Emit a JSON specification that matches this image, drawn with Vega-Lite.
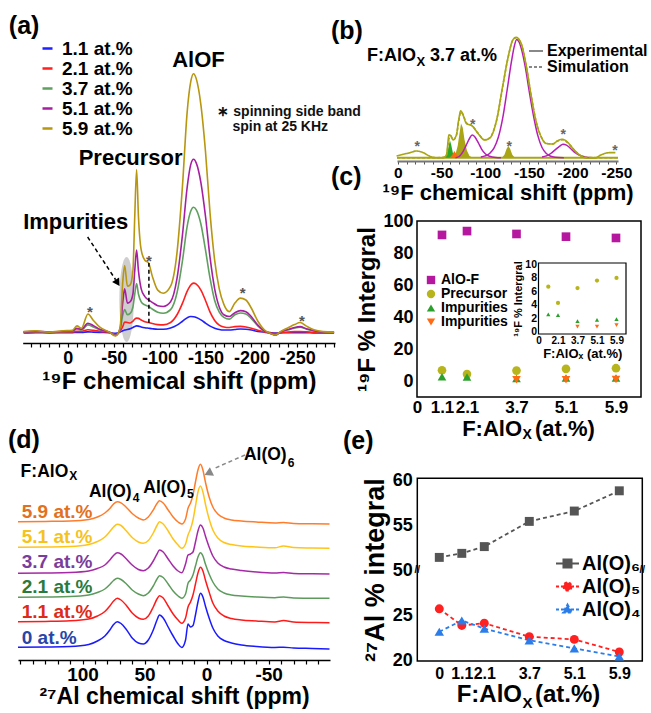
{
"$schema":"https://vega.github.io/schema/vega-lite/v6.json",
"width":651,"height":713,"autosize":{"type":"none"},"padding":0,"background":"white",
"config":{"view":{"stroke":null},"font":"Liberation Sans",
"axis":{"grid":false,"labelFont":"Liberation Sans","labelFontWeight":"bold","labelColor":"#000","titleFont":"Liberation Sans","titleFontWeight":"bold","titleColor":"#000","domainColor":"#000","tickColor":"#000","labelOverlap":false,"labelFlush":false,"labelBound":false},
"legend":{"labelFont":"Liberation Sans","labelFontWeight":"bold","labelColor":"#000","padding":0},
"text":{"font":"Liberation Sans","fontWeight":"bold"}},
"datasets":{
"specA":[
{"p":48,"c11":0,"c21":0.2,"c37":0.4,"c51":0.4,"c59":0.5},
{"p":35,"c11":0.1,"c21":0.3,"c37":0.5,"c51":0.6,"c59":0.8},
{"p":20,"c11":0,"c21":0.2,"c37":0.3,"c51":0.4,"c59":0.3},
{"p":5,"c11":0.1,"c21":0.3,"c37":0.5,"c51":0.6,"c59":0.8},
{"p":-5,"c11":0.1,"c21":0.4,"c37":0.6,"c51":0.8,"c59":1.0},
{"p":-10,"c11":0.2,"c21":0.6,"c37":1.5,"c51":1.8,"c59":2.7},
{"p":-15,"c11":0.2,"c21":0.6,"c37":1.1,"c51":1.4,"c59":1.8},
{"p":-22,"c11":0.4,"c21":1.2,"c37":3.1,"c51":3.7,"c59":7.3},
{"p":-28,"c11":0.3,"c21":1.0,"c37":2.3,"c51":2.8,"c59":4.8},
{"p":-35,"c11":0.2,"c21":0.6,"c37":1.1,"c51":1.4,"c59":2.2},
{"p":-45,"c11":0.1,"c21":0.2,"c37":0.3,"c51":0.3,"c59":0.4},
{"p":-52,"c11":-0.2,"c21":-0.6,"c37":-0.9,"c51":-1.0,"c59":-1.2},
{"p":-57,"c11":0.3,"c21":0.5,"c37":1.2,"c51":1.5,"c59":2.0},
{"p":-60,"c11":0.8,"c21":2.5,"c37":7,"c51":12,"c59":20},
{"p":-62,"c11":1.1,"c21":4.2,"c37":9,"c51":17,"c59":26},
{"p":-65,"c11":1.3,"c21":4.0,"c37":7,"c51":11.5,"c59":18},
{"p":-68,"c11":1.6,"c21":3.8,"c37":7.5,"c51":12,"c59":18.5},
{"p":-71,"c11":2.1,"c21":4.5,"c37":10,"c51":15,"c59":24},
{"p":-73,"c11":2.5,"c21":5.3,"c37":15,"c51":24,"c59":45},
{"p":-75,"c11":2.7,"c21":5.7,"c37":19,"c51":32,"c59":63},
{"p":-77,"c11":2.6,"c21":5.6,"c37":15,"c51":24,"c59":45},
{"p":-80,"c11":2.3,"c21":5.0,"c37":12,"c51":17,"c59":32},
{"p":-84,"c11":2.0,"c21":4.3,"c37":10.8,"c51":14,"c59":28},
{"p":-88,"c11":1.8,"c21":4.0,"c37":10.2,"c51":12.7,"c59":27},
{"p":-92,"c11":1.6,"c21":3.6,"c37":9.2,"c51":11.8,"c59":22},
{"p":-98,"c11":1.4,"c21":3.2,"c37":8,"c51":10.5,"c59":16.5},
{"p":-104,"c11":1.4,"c21":3.1,"c37":7.6,"c51":10.2,"c59":15.3},
{"p":-112,"c11":1.9,"c21":4.0,"c37":9,"c51":12,"c59":18},
{"p":-119,"c11":3.0,"c21":7,"c37":15.5,"c51":21,"c59":31},
{"p":-125,"c11":4.5,"c21":11.5,"c37":28,"c51":38,"c59":57},
{"p":-130,"c11":5.8,"c21":16,"c37":41,"c51":56,"c59":85},
{"p":-134,"c11":6.3,"c21":18.5,"c37":47,"c51":65,"c59":97},
{"p":-137,"c11":6.2,"c21":19.2,"c37":48.5,"c51":67,"c59":100},
{"p":-140,"c11":5.9,"c21":18.8,"c37":47.5,"c51":65.5,"c59":98},
{"p":-145,"c11":5.0,"c21":16.5,"c37":42,"c51":58,"c59":88},
{"p":-150,"c11":3.8,"c21":12.5,"c37":32,"c51":45,"c59":70},
{"p":-155,"c11":2.6,"c21":8,"c37":21,"c51":29,"c59":46},
{"p":-160,"c11":1.8,"c21":4.8,"c37":12.5,"c51":17,"c59":28},
{"p":-165,"c11":1.3,"c21":3.0,"c37":8,"c51":10,"c59":17},
{"p":-170,"c11":1.1,"c21":2.3,"c37":6,"c51":7,"c59":11},
{"p":-176,"c11":1.1,"c21":2.1,"c37":5.3,"c51":6.3,"c59":8.2},
{"p":-182,"c11":1.3,"c21":2.4,"c37":7,"c51":7.8,"c59":11.5},
{"p":-188,"c11":1.5,"c21":2.5,"c37":7.7,"c51":8.6,"c59":13.4},
{"p":-194,"c11":1.4,"c21":2.3,"c37":7.3,"c51":8.2,"c59":12.7},
{"p":-200,"c11":1.1,"c21":1.8,"c37":5.5,"c51":6.2,"c59":9.5},
{"p":-207,"c11":0.6,"c21":1.0,"c37":2.7,"c51":3,"c59":4.5},
{"p":-214,"c11":0.3,"c21":0.4,"c37":0.7,"c51":0.8,"c59":1.2},
{"p":-220,"c11":0.1,"c21":0,"c37":-0.1,"c51":-0.1,"c59":-0.1},
{"p":-226,"c11":-0.1,"c21":-0.3,"c37":-0.8,"c51":-0.8,"c59":-0.8},
{"p":-232,"c11":0,"c21":0.1,"c37":0.4,"c51":0.4,"c59":0.6},
{"p":-240,"c11":0.1,"c21":0.3,"c37":1.2,"c51":1.3,"c59":2},
{"p":-247,"c11":0.1,"c21":0.5,"c37":1.9,"c51":2.1,"c59":3.2},
{"p":-253,"c11":0.1,"c21":0.5,"c37":2.2,"c51":2.4,"c59":4.0},
{"p":-260,"c11":0.1,"c21":0.4,"c37":1.4,"c51":1.6,"c59":2.6},
{"p":-268,"c11":0,"c21":0.2,"c37":0.7,"c51":0.8,"c59":1.2},
{"p":-278,"c11":0,"c21":0.1,"c37":0.3,"c51":0.3,"c59":0.5},
{"p":-290,"c11":0,"c21":0.1,"c37":0.2,"c51":0.2,"c59":0.3}],
"specD":[
{"p":152,"c0":12.7,"c11":38.3,"c21":62.7,"c37":86.7,"c51":112.7,"c59":138.3},
{"p":130,"c0":13.0,"c11":38.6,"c21":63,"c37":87,"c51":113,"c59":138.6},
{"p":110,"c0":13.5,"c11":39.2,"c21":63.4,"c37":87.5,"c51":113.5,"c59":139},
{"p":95,"c0":15.5,"c11":41,"c21":65,"c37":89,"c51":115.5,"c59":140.5},
{"p":88,"c0":19,"c11":44,"c21":67.5,"c37":91.5,"c51":118.5,"c59":143},
{"p":82,"c0":24,"c11":48.5,"c21":71,"c37":95,"c51":123,"c59":147},
{"p":78,"c0":30,"c11":54,"c21":75.5,"c37":100,"c51":128.5,"c59":151.5},
{"p":75,"c0":35.5,"c11":59,"c21":79.5,"c37":104.5,"c51":133,"c59":156},
{"p":72,"c0":38.3,"c11":61.7,"c21":81.7,"c37":107.3,"c51":135.7,"c59":158.3},
{"p":69,"c0":36.5,"c11":60,"c21":80.5,"c37":106,"c51":134.5,"c59":157.2},
{"p":65,"c0":31,"c11":55,"c21":76.5,"c37":101.5,"c51":129.5,"c59":153},
{"p":60,"c0":22,"c11":47,"c21":70,"c37":95,"c51":122.5,"c59":146.5},
{"p":55,"c0":17,"c11":42,"c21":66,"c37":90.5,"c51":118,"c59":142},
{"p":51,"c0":16,"c11":40.7,"c21":64.3,"c37":89.3,"c51":116.7,"c59":140},
{"p":47,"c0":20,"c11":44,"c21":67,"c37":92,"c51":119.5,"c59":143},
{"p":43,"c0":30,"c11":53,"c21":74,"c37":99,"c51":127,"c59":150},
{"p":40,"c0":40,"c11":61,"c21":81,"c37":106,"c51":134.5,"c59":156.5},
{"p":38,"c0":45,"c11":64.3,"c21":84.3,"c37":110,"c51":138.3,"c59":159.3},
{"p":35,"c0":42,"c11":62,"c21":82.5,"c37":108,"c51":136,"c59":157},
{"p":31,"c0":33,"c11":54,"c21":76,"c37":101,"c51":129,"c59":150},
{"p":27,"c0":24,"c11":46,"c21":69,"c37":94,"c51":121,"c59":143},
{"p":23,"c0":16,"c11":40,"c21":64,"c37":89,"c51":115,"c59":138},
{"p":20,"c0":12.5,"c11":36.7,"c21":61.7,"c37":87.3,"c51":111.7,"c59":136},
{"p":17,"c0":20,"c11":42,"c21":66,"c37":96,"c51":116,"c59":141},
{"p":15,"c0":36,"c11":53,"c21":76.7,"c37":105,"c51":125,"c59":151.7},
{"p":13,"c0":33,"c11":58,"c21":80,"c37":106,"c51":131,"c59":157},
{"p":11,"c0":34.5,"c11":65,"c21":85,"c37":108,"c51":140,"c59":165},
{"p":9,"c0":45,"c11":76,"c21":94,"c37":118,"c51":154,"c59":178},
{"p":7,"c0":58,"c11":87,"c21":103,"c37":129,"c51":168,"c59":190},
{"p":5,"c0":66.7,"c11":92.7,"c21":107.3,"c37":135,"c51":174,"c59":195.7},
{"p":3,"c0":63,"c11":89,"c21":104,"c37":132,"c51":168,"c59":190},
{"p":1,"c0":54,"c11":80,"c21":96,"c37":124,"c51":156,"c59":178},
{"p":-2,"c0":42,"c11":68,"c21":86,"c37":113,"c51":141,"c59":163},
{"p":-5,"c0":32,"c11":57,"c21":78,"c37":104,"c51":130,"c59":153},
{"p":-9,"c0":24,"c11":49,"c21":71,"c37":97,"c51":122,"c59":146},
{"p":-14,"c0":19.5,"c11":44,"c21":67,"c37":93,"c51":117.5,"c59":142},
{"p":-20,"c0":17,"c11":41.5,"c21":65,"c37":91,"c51":115.5,"c59":140},
{"p":-28,"c0":15,"c11":40,"c21":64,"c37":89.5,"c51":114,"c59":139},
{"p":-40,"c0":13.5,"c11":39,"c21":63,"c37":88,"c51":113,"c59":138},
{"p":-55,"c0":12.5,"c11":38,"c21":62.3,"c37":87,"c51":112.2,"c59":137},
{"p":-62,"c0":12.8,"c11":39.5,"c21":63,"c37":87.5,"c51":114,"c59":137.5},
{"p":-70,"c0":12,"c11":38,"c21":62,"c37":86.5,"c51":112.5,"c59":136.5},
{"p":-85,"c0":11.5,"c11":37.5,"c21":61.8,"c37":86.2,"c51":112,"c59":136.2},
{"p":-99,"c0":11,"c11":37.3,"c21":61.7,"c37":86,"c51":111.7,"c59":136}],
"expB":[
{"k":"Experimental","p":1.5,"v":1.4},{"k":"Experimental","p":-6,"v":2.8},{"k":"Experimental","p":-14,"v":4.2},{"k":"Experimental","p":-21,"v":5.6},{"k":"Experimental","p":-29,"v":4.2},{"k":"Experimental","p":-36,"v":1.4},{"k":"Experimental","p":-44,"v":0},{"k":"Experimental","p":-52,"v":0},{"k":"Experimental","p":-55.6,"v":2.3},{"k":"Experimental","p":-58.6,"v":19},{"k":"Experimental","p":-60.5,"v":18.4},{"k":"Experimental","p":-63.2,"v":14.8},{"k":"Experimental","p":-67,"v":19},{"k":"Experimental","p":-69.6,"v":31.4},{"k":"Experimental","p":-72,"v":39},{"k":"Experimental","p":-74.6,"v":35.6},{"k":"Experimental","p":-78.4,"v":28.6},{"k":"Experimental","p":-85.2,"v":26.4},{"k":"Experimental","p":-91.7,"v":20.3},{"k":"Experimental","p":-99.3,"v":14.8},{"k":"Experimental","p":-105,"v":16.2},{"k":"Experimental","p":-112.6,"v":30},{"k":"Experimental","p":-120.2,"v":60.6},{"k":"Experimental","p":-125.9,"v":82.8},{"k":"Experimental","p":-131.6,"v":98.1},{"k":"Experimental","p":-135.4,"v":100.3},{"k":"Experimental","p":-141.1,"v":95.3},{"k":"Experimental","p":-146.8,"v":77.2},{"k":"Experimental","p":-152.5,"v":52.2},{"k":"Experimental","p":-158.3,"v":30},{"k":"Experimental","p":-164,"v":17.5},{"k":"Experimental","p":-169.7,"v":11.9},{"k":"Experimental","p":-177.3,"v":11.4},{"k":"Experimental","p":-183,"v":14.2},{"k":"Experimental","p":-188.7,"v":15.3},{"k":"Experimental","p":-194.4,"v":12.8},{"k":"Experimental","p":-202,"v":6.4},{"k":"Experimental","p":-209.7,"v":1.4},{"k":"Experimental","p":-217.3,"v":-0.5},{"k":"Experimental","p":-224.9,"v":-0.5},{"k":"Experimental","p":-232.5,"v":2.3},{"k":"Experimental","p":-242,"v":4.2},{"k":"Experimental","p":-249,"v":4.2},
{"k":"Simulation","p":1,"v":0},{"k":"Simulation","p":-20,"v":0},{"k":"Simulation","p":-44,"v":0},{"k":"Simulation","p":-52,"v":0.3},{"k":"Simulation","p":-55.6,"v":2},{"k":"Simulation","p":-58.6,"v":16},{"k":"Simulation","p":-60.5,"v":18},{"k":"Simulation","p":-63.2,"v":15},{"k":"Simulation","p":-67,"v":18.5},{"k":"Simulation","p":-69.6,"v":30},{"k":"Simulation","p":-72,"v":38},{"k":"Simulation","p":-74.6,"v":36},{"k":"Simulation","p":-78.4,"v":29},{"k":"Simulation","p":-85.2,"v":26.5},{"k":"Simulation","p":-91.7,"v":20.5},{"k":"Simulation","p":-99.3,"v":15},{"k":"Simulation","p":-105,"v":16.5},{"k":"Simulation","p":-112.6,"v":30},{"k":"Simulation","p":-120.2,"v":60},{"k":"Simulation","p":-125.9,"v":82.5},{"k":"Simulation","p":-131.6,"v":98},{"k":"Simulation","p":-135.4,"v":100},{"k":"Simulation","p":-141.1,"v":95},{"k":"Simulation","p":-146.8,"v":77},{"k":"Simulation","p":-152.5,"v":52},{"k":"Simulation","p":-158.3,"v":30},{"k":"Simulation","p":-164,"v":17.5},{"k":"Simulation","p":-169.7,"v":12},{"k":"Simulation","p":-177.3,"v":11.5},{"k":"Simulation","p":-183,"v":14},{"k":"Simulation","p":-188.7,"v":15},{"k":"Simulation","p":-194.4,"v":12.5},{"k":"Simulation","p":-202,"v":6.2},{"k":"Simulation","p":-209.7,"v":1.5},{"k":"Simulation","p":-217.3,"v":0.2},{"k":"Simulation","p":-230,"v":0},{"k":"Simulation","p":-252,"v":0}],
"magB":[
{"k":"m1","p":-95,"v":0.5},{"k":"m1","p":-100,"v":1.5},{"k":"m1","p":-105,"v":3.5},{"k":"m1","p":-110,"v":8},{"k":"m1","p":-115,"v":17},{"k":"m1","p":-120,"v":33},{"k":"m1","p":-125,"v":56},{"k":"m1","p":-130,"v":80},{"k":"m1","p":-133,"v":92},{"k":"m1","p":-136,"v":98.5},{"k":"m1","p":-139,"v":96},{"k":"m1","p":-142,"v":89},{"k":"m1","p":-146,"v":75},{"k":"m1","p":-150,"v":57},{"k":"m1","p":-155,"v":36},{"k":"m1","p":-160,"v":19},{"k":"m1","p":-165,"v":8.5},{"k":"m1","p":-170,"v":3.5},{"k":"m1","p":-175,"v":1.2},{"k":"m1","p":-180,"v":0.4},{"k":"m1","p":-190,"v":0},
{"k":"m2","p":-66,"v":0},{"k":"m2","p":-70,"v":1},{"k":"m2","p":-74,"v":4.5},{"k":"m2","p":-78,"v":10},{"k":"m2","p":-82,"v":16},{"k":"m2","p":-85,"v":18.9},{"k":"m2","p":-88,"v":17.5},{"k":"m2","p":-92,"v":12.5},{"k":"m2","p":-96,"v":7},{"k":"m2","p":-100,"v":3.3},{"k":"m2","p":-105,"v":1.2},{"k":"m2","p":-112,"v":0.2},{"k":"m2","p":-118,"v":0},
{"k":"m3","p":-165,"v":0.5},{"k":"m3","p":-170,"v":1.5},{"k":"m3","p":-175,"v":3.5},{"k":"m3","p":-180,"v":6.5},{"k":"m3","p":-185,"v":9.5},{"k":"m3","p":-189,"v":11.2},{"k":"m3","p":-193,"v":10.5},{"k":"m3","p":-198,"v":7.5},{"k":"m3","p":-203,"v":4.2},{"k":"m3","p":-208,"v":2},{"k":"m3","p":-214,"v":0.7},{"k":"m3","p":-222,"v":0}],
"fillB":[
{"k":"y1","p":-63,"v":0},{"k":"y1","p":-66,"v":3},{"k":"y1","p":-68.5,"v":10},{"k":"y1","p":-70.5,"v":20},{"k":"y1","p":-72.3,"v":28.6},{"k":"y1","p":-74.3,"v":25},{"k":"y1","p":-76.3,"v":15},{"k":"y1","p":-79,"v":6},{"k":"y1","p":-82,"v":1.5},{"k":"y1","p":-86,"v":0},
{"k":"y2","p":-119,"v":0},{"k":"y2","p":-122,"v":2.5},{"k":"y2","p":-124.5,"v":7.5},{"k":"y2","p":-126.5,"v":9.7},{"k":"y2","p":-128.5,"v":7.5},{"k":"y2","p":-131,"v":2.5},{"k":"y2","p":-134,"v":0},
{"k":"g1","p":-53,"v":0},{"k":"g1","p":-56,"v":3},{"k":"g1","p":-58,"v":9},{"k":"g1","p":-59.5,"v":14.8},{"k":"g1","p":-61,"v":11},{"k":"g1","p":-63,"v":4},{"k":"g1","p":-65,"v":0.8},{"k":"g1","p":-67,"v":0},
{"k":"o1","p":-59,"v":0},{"k":"o1","p":-62,"v":2},{"k":"o1","p":-64.6,"v":5.6},{"k":"o1","p":-67.5,"v":2.5},{"k":"o1","p":-70.5,"v":0.3},{"k":"o1","p":-73,"v":0}],
"ptsC":[
{"k":"AlO-F","c":1.1,"v":91.3},{"k":"AlO-F","c":2.1,"v":93.7},{"k":"AlO-F","c":3.7,"v":91.9},{"k":"AlO-F","c":5.1,"v":90.2},{"k":"AlO-F","c":5.9,"v":89.4},
{"k":"Precursor","c":1.1,"v":6.7},{"k":"Precursor","c":2.1,"v":4.3},{"k":"Precursor","c":3.7,"v":6.5},{"k":"Precursor","c":5.1,"v":7.6},{"k":"Precursor","c":5.9,"v":8.0},
{"k":"Impurities","c":1.1,"v":2.6},{"k":"Impurities","c":2.1,"v":2.5},{"k":"Impurities","c":3.7,"v":1.6},{"k":"Impurities","c":5.1,"v":1.8},{"k":"Impurities","c":5.9,"v":1.9},
{"k":"Impurities ","c":3.7,"v":0.8},{"k":"Impurities ","c":5.1,"v":0.8},{"k":"Impurities ","c":5.9,"v":1.0}],
"ptsE":[
{"k":"Al(O)₆","c":0,"v":51.4},{"k":"Al(O)₆","c":1.1,"v":51.85},{"k":"Al(O)₆","c":2.1,"v":52.6},{"k":"Al(O)₆","c":3.7,"v":55.4},{"k":"Al(O)₆","c":5.1,"v":56.55},{"k":"Al(O)₆","c":5.9,"v":58.8},
{"k":"Al(O)₅","c":0,"v":25.7},{"k":"Al(O)₅","c":1.1,"v":23.85},{"k":"Al(O)₅","c":2.1,"v":24.1},{"k":"Al(O)₅","c":3.7,"v":22.6},{"k":"Al(O)₅","c":5.1,"v":22.3},{"k":"Al(O)₅","c":5.9,"v":20.9},
{"k":"Al(O)₄","c":0,"v":23.15},{"k":"Al(O)₄","c":1.1,"v":24.4},{"k":"Al(O)₄","c":2.1,"v":23.5},{"k":"Al(O)₄","c":3.7,"v":22.2},{"k":"Al(O)₄","c":5.1,"v":21.3},{"k":"Al(O)₄","c":5.9,"v":20.4}]
},
"layer":[
 {"data":{"values":[{}]},
  "mark":{"type":"point","shape":"M0,-1A0.17,1 0 1,1 0,1A0.17,1 0 1,1 0,-1Z","size":7225,"filled":true,"color":"#c6c6c6","opacity":0.85,"strokeWidth":0},
  "encoding":{
   "x":{"datum":-64.1,"type":"quantitative","scale":{"type":"linear","domain":[-291,49],"range":[335,22.7],"nice":false,"zero":false},
    "axis":{"orient":"bottom","offset":-370,"values":[40,30,20,10,0,-10,-20,-30,-40,-50,-60,-70,-80,-90,-100,-110,-120,-130,-140,-150,-160,-170,-180,-190,-200,-210,-220,-230,-240,-250,-260,-270,-280,-290],"labelExpr":"datum.value % 50 === 0 ? '' + datum.value : ''","labelFontSize":18,"tickSize":4,"tickWidth":1.2,"domainWidth":1.5,"labelPadding":2,"title":"¹⁹F chemical shift (ppm)","titleFontSize":24,"titlePadding":2}},
   "y":{"datum":12.9,"type":"quantitative","scale":{"type":"linear","domain":[-3.9,113],"range":[343,40],"nice":false,"zero":false},"axis":null}}},
{"layer":[
 {"data":{"name":"specA"},"transform":[{"fold":["c11","c21","c37","c51","c59"],"as":["s","v"]}],
  "mark":{"type":"line","strokeWidth":1.6,"interpolate":"monotone"},
  "encoding":{"x":{"field":"p","type":"quantitative","scale":{"type":"linear","domain":[-291,49],"range":[335,22.7],"nice":false,"zero":false},"axis":null},
   "y":{"field":"v","type":"quantitative","scale":{"type":"linear","domain":[-3.9,113],"range":[343,40],"nice":false,"zero":false},"axis":null},
   "color":{"field":"s","type":"nominal","scale":{"domain":["c11","c21","c37","c51","c59"],"range":["#1f1fff","#ff1f1f","#5f9f5f","#a61fa0","#b8960f"]},
    "legend":{"orient":"none","legendX":38,"legendY":39,"title":null,"symbolType":"stroke","symbolSize":100,"symbolStrokeWidth":2.5,"labelFontSize":19,"labelOffset":5,"rowPadding":-0.5,"labelExpr":"datum.label == 'c11' ? '1.1 at.%' : datum.label == 'c21' ? '2.1 at.%' : datum.label == 'c37' ? '3.7 at.%' : datum.label == 'c51' ? '5.1 at.%' : '5.9 at.%'"}}}},
 {"data":{"values":[{}]},"mark":{"type":"rule","color":"#000","strokeWidth":1.5,"strokeDash":[4,3]},
  "encoding":{"x":{"datum":-88.4,"type":"quantitative","axis":null},"y":{"datum":3.9,"type":"quantitative","axis":null},"y2":{"datum":27}}},
 {"data":{"values":[{}]},"mark":{"type":"rule","color":"#000","strokeWidth":1.5,"strokeDash":[4,3]},
  "encoding":{"x":{"datum":-21.7,"type":"quantitative","axis":null},"y":{"datum":37,"type":"quantitative","axis":null},"x2":{"datum":-52.2},"y2":{"datum":20.5}}},
 {"data":{"values":[{}]},"mark":{"type":"point","shape":"triangle-up","filled":true,"color":"#000","size":70,"angle":147,"opacity":1},
  "encoding":{"x":{"datum":-54.3,"type":"quantitative","axis":null},"y":{"datum":19.3,"type":"quantitative","axis":null}}},
 {"data":{"values":[{"p":-24.3,"v":9.5},{"p":-88.4,"v":29.2},{"p":-190.6,"v":16.9},{"p":-255,"v":6.3}]},
  "mark":{"type":"text","text":"*","fontSize":15,"fontWeight":"bold","color":"#555","dy":4,"baseline":"middle"},
  "encoding":{"x":{"field":"p","type":"quantitative","axis":null},"y":{"field":"v","type":"quantitative","axis":null}}},
 {"data":{"values":[{"t":"AlOF","p":-142.4,"v":105.4},{"t":"Precursor","p":-68.5,"v":67.6},{"t":"Impurities","p":-8.7,"v":42.9}]},
  "mark":{"type":"text","fontSize":22,"fontWeight":"bold","color":"#000","baseline":"middle","align":"center"},
  "encoding":{"x":{"field":"p","type":"quantitative","axis":null},"y":{"field":"v","type":"quantitative","axis":null},"text":{"field":"t"}}},
 {"data":{"values":[{"t":"∗ spinning side band","p":-163,"v":85.3},{"t":"spin at 25 KHz","p":-179.3,"v":79.5}]},
  "mark":{"type":"text","fontSize":14,"fontWeight":"bold","color":"#111","baseline":"middle","align":"left"},
  "encoding":{"x":{"field":"p","type":"quantitative","axis":null},"y":{"field":"v","type":"quantitative","axis":null},"text":{"field":"t"}}},
 {"data":{"values":[{"t":"(a)","p":64.1,"v":118.5}]},
  "mark":{"type":"text","fontSize":25,"fontWeight":"bold","color":"#000","baseline":"middle","align":"left"},
  "encoding":{"x":{"field":"p","type":"quantitative","axis":null},"y":{"field":"v","type":"quantitative","axis":null},"text":{"field":"t"}}}
]},
 {"data":{"values":[{}]},"mark":{"type":"rule","color":"#a9a514","strokeWidth":2},
  "encoding":{"x":{"datum":1,"type":"quantitative","scale":{"type":"linear","domain":[-252,1],"range":[618,397],"nice":false,"zero":false},
    "axis":{"orient":"bottom","offset":-552,"values":[0,-10,-20,-30,-40,-50,-60,-70,-80,-90,-100,-110,-120,-130,-140,-150,-160,-170,-180,-190,-200,-210,-220,-230,-240,-250],"labelExpr":"datum.value % 50 === 0 ? '' + datum.value : ''","labelFontSize":15.5,"tickSize":3,"tickColor":"#555","domainWidth":2,"domainColor":"#777","labelPadding":1,"title":"¹⁹F chemical shift (ppm)","titleFontSize":22,"titlePadding":2}},
   "x2":{"datum":-252},
   "y":{"datum":0,"type":"quantitative","scale":{"type":"linear","domain":[-2.75,110.6],"range":[161,25],"nice":false,"zero":false},"axis":null}}},
{"layer":[
 {"data":{"name":"fillB"},
  "mark":{"type":"area","opacity":1},
  "encoding":{
   "x":{"field":"p","type":"quantitative","scale":{"type":"linear","domain":[-252,1],"range":[618,397],"nice":false,"zero":false},"axis":null},
   "y":{"field":"v","type":"quantitative","stack":null,"scale":{"type":"linear","domain":[-2.75,110.6],"range":[161,25],"nice":false,"zero":false},"axis":null},
   "color":{"field":"k","type":"nominal","scale":{"domain":["y1","y2","g1","o1"],"range":["#a9a514","#a9a514","#28a828","#ff6a13"]},"legend":null}}},
 {"data":{"name":"magB"},"mark":{"type":"line","color":"#b51fb5","strokeWidth":1.5,"interpolate":"monotone"},
  "encoding":{"x":{"field":"p","type":"quantitative","axis":null},"y":{"field":"v","type":"quantitative","axis":null},"detail":{"field":"k"}}},
 {"data":{"name":"expB"},"mark":{"type":"line","strokeWidth":1.6,"interpolate":"monotone"},
  "encoding":{"x":{"field":"p","type":"quantitative","axis":null},"y":{"field":"v","type":"quantitative","axis":null},
   "color":{"field":"k","type":"nominal","scale":{"domain":["Experimental","Simulation"],"range":["#000000","#ff1a1a"]},
    "legend":{"orient":"none","legendX":528,"legendY":43,"title":null,"symbolType":"stroke","symbolSize":196,"symbolStrokeWidth":2,"labelFontSize":16,"labelOffset":3,"rowPadding":0}},
   "strokeDash":{"field":"k","type":"nominal","scale":{"domain":["Experimental","Simulation"],"range":[[1,0],[3,2]]},
    "legend":{"orient":"none","legendX":528,"legendY":43,"title":null,"symbolType":"stroke","symbolSize":196,"symbolStrokeWidth":2,"labelFontSize":16,"labelOffset":3,"rowPadding":0}}}},
 {"data":{"values":[{"p":-22.2,"v":12},{"p":-85.7,"v":30.8},{"p":-127.6,"v":12},{"p":-189.4,"v":22.3},{"p":-248.6,"v":9.2}]},
  "mark":{"type":"text","text":"*","fontSize":14,"fontWeight":"bold","color":"#666","dy":4,"baseline":"middle"},
  "encoding":{"x":{"field":"p","type":"quantitative","axis":null},"y":{"field":"v","type":"quantitative","axis":null}}},
 {"data":{"values":[{}]},"mark":{"type":"text","text":"F:AlO","align":"right","baseline":"middle","fontSize":18,"fontWeight":"bold","color":"#000"},
  "encoding":{"x":{"datum":-20.75,"type":"quantitative","axis":null},"y":{"datum":84.35,"type":"quantitative","axis":null}}},
 {"data":{"values":[{}]},"mark":{"type":"text","text":"X","align":"left","baseline":"middle","fontSize":13,"fontWeight":"bold","color":"#000","dx":0.5,"dy":6},
  "encoding":{"x":{"datum":-20.75,"type":"quantitative","axis":null},"y":{"datum":84.35,"type":"quantitative","axis":null}}},
 {"data":{"values":[{}]},"mark":{"type":"text","text":"3.7 at.%","align":"left","baseline":"middle","fontSize":18,"fontWeight":"bold","color":"#000","dx":14},
  "encoding":{"x":{"datum":-20.75,"type":"quantitative","axis":null},"y":{"datum":84.35,"type":"quantitative","axis":null}}},
 {"data":{"values":[{"t":"(b)","p":76.6,"v":105.2},{"t":"(c)","p":76.6,"v":-15.7}]},
  "mark":{"type":"text","fontSize":25,"fontWeight":"bold","color":"#000","baseline":"middle","align":"left"},
  "encoding":{"x":{"field":"p","type":"quantitative","axis":null},"y":{"field":"v","type":"quantitative","axis":null},"text":{"field":"t"}}}
]},
 {"data":{"values":[{}]},"mark":{"type":"rect","fill":"white","fillOpacity":0,"stroke":"#000","strokeWidth":1.5},
  "encoding":{
   "x":{"datum":0,"type":"quantitative","scale":{"type":"linear","domain":[0,1.1,2.1,3.7,5.1,5.9,6.5],"range":[417,442,467,516.5,566,616,641],"nice":false,"zero":false},
    "axis":{"orient":"bottom","offset":-316,"values":[0,1.1,2.1,3.7,5.1,5.9],"labelExpr":"datum.value === 0 ? '0' : format(datum.value, '.1f')","labelFontSize":17,"ticks":false,"domain":false,"labelPadding":2,"title":null}},
   "x2":{"datum":6.5},
   "y":{"datum":-10,"type":"quantitative","scale":{"type":"linear","domain":[-10,100],"range":[397,221],"nice":false,"zero":false},
    "axis":{"orient":"left","offset":-417,"values":[0,20,40,60,80,100],"labelFontSize":18,"ticks":false,"domain":false,"labelPadding":4,"title":"¹⁹F % Intergral","titleFontSize":24,"titlePadding":3}},
   "y2":{"datum":100}}},
{"layer":[
 {"data":{"name":"ptsC"},"mark":{"type":"point","filled":true,"size":75,"opacity":1},
  "encoding":{"x":{"field":"c","type":"quantitative","scale":{"type":"linear","domain":[0,1.1,2.1,3.7,5.1,5.9,6.5],"range":[417,442,467,516.5,566,616,641],"nice":false,"zero":false},"axis":null},
   "y":{"field":"v","type":"quantitative","scale":{"type":"linear","domain":[-10,100],"range":[397,221],"nice":false,"zero":false},"axis":null},
   "color":{"field":"k","type":"nominal","scale":{"domain":["AlO-F","Precursor","Impurities","Impurities "],"range":["#b5179e","#b8b51c","#2ca02c","#ff6a13"]},
    "legend":{"orient":"none","legendX":424,"legendY":273,"title":null,"labelFontSize":14,"symbolSize":70,"labelOffset":3,"rowPadding":0,"symbolStrokeWidth":0}},
   "shape":{"field":"k","type":"nominal","scale":{"domain":["AlO-F","Precursor","Impurities","Impurities "],"range":["square","circle","triangle-up","triangle-down"]},
    "legend":{"orient":"none","legendX":424,"legendY":273,"title":null,"labelFontSize":14,"symbolSize":70,"labelOffset":3,"rowPadding":0,"symbolStrokeWidth":0}}}},
 {"data":{"values":[{}]},"mark":{"type":"text","text":"F:AlO","align":"right","baseline":"middle","fontSize":22,"fontWeight":"bold","color":"#000"},
  "encoding":{"x":{"datum":3.856,"type":"quantitative","axis":null},"y":{"datum":-30.2,"type":"quantitative","axis":null}}},
 {"data":{"values":[{}]},"mark":{"type":"text","text":"X","align":"left","baseline":"middle","fontSize":14,"fontWeight":"bold","color":"#000","dx":0.5,"dy":6},
  "encoding":{"x":{"datum":3.856,"type":"quantitative","axis":null},"y":{"datum":-30.2,"type":"quantitative","axis":null}}},
 {"data":{"values":[{}]},"mark":{"type":"text","text":"(at.%)","align":"left","baseline":"middle","fontSize":22,"fontWeight":"bold","color":"#000","dx":13},
  "encoding":{"x":{"datum":3.856,"type":"quantitative","axis":null},"y":{"datum":-30.2,"type":"quantitative","axis":null}}}
]},
 {"data":{"values":[{}]},"mark":{"type":"rect","fill":"white","fillOpacity":1,"stroke":"#000","strokeWidth":1.2},
  "encoding":{
   "x":{"datum":0,"type":"quantitative","scale":{"type":"linear","domain":[0,1.1,2.1,3.7,5.1,5.9,6.5],"range":[538.5,548.3,558,577.5,597,616.5,626],"nice":false,"zero":false},
    "axis":{"orient":"bottom","offset":-379,"values":[0,2.1,3.7,5.1,5.9],"labelExpr":"datum.value === 0 ? '0' : format(datum.value, '.1f')","labelFontSize":10,"ticks":false,"domain":false,"labelPadding":1,"title":"F:AlOₓ (at.%)","titleFontSize":13,"titlePadding":2}},
   "x2":{"datum":6.5},
   "y":{"datum":-0.3,"type":"quantitative","scale":{"type":"linear","domain":[-0.3,10.2],"range":[334,263],"nice":false,"zero":false},
    "axis":{"orient":"left","offset":-538.5,"values":[0,2,4,6,8,10],"labelFontSize":10.5,"ticks":false,"domain":false,"labelPadding":2,"title":"¹⁹F % Intergral","titleFontSize":11,"titlePadding":1}},
   "y2":{"datum":10.2}}},
 {"data":{"name":"ptsC"},"transform":[{"filter":"datum.k !== 'AlO-F'"}],"mark":{"type":"point","filled":true,"size":18,"opacity":1},
  "encoding":{"x":{"field":"c","type":"quantitative","scale":{"type":"linear","domain":[0,1.1,2.1,3.7,5.1,5.9,6.5],"range":[538.5,548.3,558,577.5,597,616.5,626],"nice":false,"zero":false},"axis":null},
   "y":{"field":"v","type":"quantitative","scale":{"type":"linear","domain":[-0.3,10.2],"range":[334,263],"nice":false,"zero":false},"axis":null},
   "color":{"field":"k","type":"nominal","scale":{"domain":["Precursor","Impurities","Impurities "],"range":["#b8b51c","#2ca02c","#ff6a13"]},"legend":null},
   "shape":{"field":"k","type":"nominal","scale":{"domain":["Precursor","Impurities","Impurities "],"range":["circle","triangle-up","triangle-down"]},"legend":null}}},
 {"data":{"values":[{}]},"mark":{"type":"rule","color":"#888","strokeWidth":1.5,"strokeDash":[4,3]},
  "encoding":{"x":{"datum":-30.9,"type":"quantitative","scale":{"type":"linear","domain":[-99.4,152],"range":[330,18],"nice":false,"zero":false},
    "axis":{"orient":"bottom","offset":-53,"values":[150,140,130,120,110,100,90,80,70,60,50,40,30,20,10,0,-10,-20,-30,-40,-50,-60,-70,-80,-90],"labelExpr":"datum.value % 50 === 0 && datum.value < 150 ? '' + datum.value : ''","labelFontSize":19,"tickSize":4,"tickWidth":1.2,"domainWidth":1.5,"labelPadding":1,"title":"²⁷Al chemical shift (ppm)","titleFontSize":23,"titlePadding":1.5}},
   "y":{"datum":205,"type":"quantitative","scale":{"type":"linear","domain":[0,250],"range":[660,410],"nice":false,"zero":false},"axis":null},
   "x2":{"datum":-5.1},"y2":{"datum":191}}},
{"layer":[
 {"data":{"name":"specD"},"transform":[{"fold":["c0","c11","c21","c37","c51","c59"],"as":["s","v"]}],
  "mark":{"type":"line","strokeWidth":1.5,"interpolate":"monotone"},
  "encoding":{
   "x":{"field":"p","type":"quantitative","scale":{"type":"linear","domain":[-99.4,152],"range":[330,18],"nice":false,"zero":false},"axis":null},
   "y":{"field":"v","type":"quantitative","scale":{"type":"linear","domain":[0,250],"range":[660,410],"nice":false,"zero":false},"axis":null},
   "stroke":{"field":"s","type":"nominal","scale":{"domain":["c0","c11","c21","c37","c51","c59"],"range":["#1a1aff","#ff1a1a","#5d9b5d","#a52aa5","#ffc41a","#ff7c2a"]},"legend":null}}},
 {"data":{"values":[{"s":"c59","t":"5.9 at.%","p":149,"v":148.3},{"s":"c51","t":"5.1 at.%","p":149,"v":123.3},{"s":"c37","t":"3.7 at.%","p":149,"v":98.3},{"s":"c21","t":"2.1 at.%","p":149,"v":73.3},{"s":"c11","t":"1.1 at.%","p":149,"v":48.3},{"s":"c0","t":"0 at.%","p":149,"v":22.3}]},
  "mark":{"type":"text","fontSize":19,"fontWeight":"bold","align":"left","baseline":"middle"},
  "encoding":{"x":{"field":"p","type":"quantitative","axis":null},"y":{"field":"v","type":"quantitative","axis":null},"text":{"field":"t"},
   "color":{"field":"s","type":"nominal","scale":{"domain":["c0","c11","c21","c37","c51","c59"],"range":["#2646a8","#dd2a1a","#2a7a3c","#7a3d9a","#f5c31e","#e2701e"]},"legend":null}}},
 {"data":{"values":[{"t":"F:AlO","p":111.5,"v":188.3},{"t":"Al(O)","p":60.4,"v":168.3},{"t":"Al(O)","p":16.6,"v":171.7},{"t":"Al(O)","p":-64.5,"v":205}]},
  "mark":{"type":"text","fontSize":17.5,"fontWeight":"bold","align":"right","baseline":"middle","color":"#000"},
  "encoding":{"x":{"field":"p","type":"quantitative","axis":null},"y":{"field":"v","type":"quantitative","axis":null},"text":{"field":"t"}}},
 {"data":{"values":[{"t":"X","p":111.5,"v":184},{"t":"4","p":60.4,"v":162.5},{"t":"5","p":16.6,"v":166},{"t":"6","p":-64.5,"v":197.5}]},
  "mark":{"type":"text","fontSize":12,"fontWeight":"bold","align":"left","baseline":"middle","color":"#000","dx":1},
  "encoding":{"x":{"field":"p","type":"quantitative","axis":null},"y":{"field":"v","type":"quantitative","axis":null},"text":{"field":"t"}}},
 {"data":{"values":[{}]},"mark":{"type":"point","shape":"triangle-up","filled":true,"color":"#888","size":90,"angle":244,"opacity":1},
  "encoding":{"x":{"datum":-1.3,"type":"quantitative","axis":null},"y":{"datum":186.7,"type":"quantitative","axis":null}}},
 {"data":{"values":[{"t":"(d)","p":160.1,"v":220},{"t":"(e)","p":-109.9,"v":219}]},
  "mark":{"type":"text","fontSize":25,"fontWeight":"bold","color":"#000","baseline":"middle","align":"left"},
  "encoding":{"x":{"field":"p","type":"quantitative","axis":null},"y":{"field":"v","type":"quantitative","axis":null},"text":{"field":"t"}}}
]},
 {"data":{"values":[{}]},"mark":{"type":"rect","fill":"white","fillOpacity":0,"stroke":"#000","strokeWidth":1.5},
  "encoding":{
   "x":{"datum":-1,"type":"quantitative","scale":{"type":"linear","domain":[-1,0,1.1,2.1,3.7,5.1,5.9,7],"range":[417.3,439.3,461.8,484.3,529.3,574.3,619.3,642.3],"nice":false,"zero":false},
    "axis":{"orient":"bottom","offset":-52,"values":[0,1.1,2.1,3.7,5.1,5.9],"labelExpr":"datum.value === 0 ? '0' : format(datum.value, '.1f')","labelFontSize":16,"ticks":false,"domain":false,"labelPadding":4,"title":null}},
   "x2":{"datum":7},
   "y":{"datum":19.9,"type":"quantitative","scale":{"type":"linear","domain":[19.9,30,50,60.2],"range":[661,570.1,570,478.2],"nice":false,"zero":false},
    "axis":{"orient":"left","offset":-417.3,"values":[20,25,50,55,60],"labelFontSize":18,"ticks":false,"domain":false,"labelPadding":5,"title":"²⁷Al % integral","titleFontSize":27,"titlePadding":3}},
   "y2":{"datum":60.2}}},
{"layer":[
 {"data":{"name":"ptsE"},"mark":{"type":"line","strokeWidth":1.8,"strokeDash":[4,3]},
  "encoding":{"x":{"field":"c","type":"quantitative","scale":{"type":"linear","domain":[-1,0,1.1,2.1,3.7,5.1,5.9,7],"range":[417.3,439.3,461.8,484.3,529.3,574.3,619.3,642.3],"nice":false,"zero":false},"axis":null},
   "y":{"field":"v","type":"quantitative","scale":{"type":"linear","domain":[19.9,30,50,60.2],"range":[661,570.1,570,478.2],"nice":false,"zero":false},"axis":null},
   "color":{"field":"k","type":"nominal","scale":{"domain":["Al(O)₆","Al(O)₅","Al(O)₄"],"range":["#555555","#ff2020","#2b7de9"]},
    "legend":{"orient":"none","legendX":555,"legendY":551,"title":null,"labelFontSize":20,"symbolSize":529,"symbolStrokeWidth":2,"labelOffset":2,"rowPadding":0,
     "encode":{"symbols":{"update":{
      "shape":{"signal":"datum.value === 'Al(O)₆' ? 'M-1,0H1M-0.35,-0.35H0.35V0.35H-0.35Z' : datum.value === 'Al(O)₅' ? 'M-1,0H1M0.35,0A0.35,0.35 0 1 1 -0.35,0A0.35,0.35 0 1 1 0.35,0Z' : 'M-1,0H1M0,-0.42L0.38,0.26H-0.38Z'"},
      "fill":{"signal":"datum.value === 'Al(O)₆' ? '#555555' : datum.value === 'Al(O)₅' ? '#ff2020' : '#2b7de9'"},
      "stroke":{"signal":"datum.value === 'Al(O)₆' ? '#555555' : datum.value === 'Al(O)₅' ? '#ff2020' : '#2b7de9'"},
      "fillOpacity":{"value":1},"opacity":{"value":1},
      "strokeDash":{"signal":"datum.value === 'Al(O)₆' ? [1,0] : [3,2]"}}}}}}}},
 {"data":{"name":"ptsE"},"transform":[{"filter":"datum.k === 'Al(O)₆'"}],"mark":{"type":"point","shape":"square","filled":true,"size":80,"color":"#555555","opacity":1},
  "encoding":{"x":{"field":"c","type":"quantitative","axis":null},"y":{"field":"v","type":"quantitative","axis":null}}},
 {"data":{"name":"ptsE"},"transform":[{"filter":"datum.k === 'Al(O)₅'"}],"mark":{"type":"point","shape":"circle","filled":true,"size":80,"color":"#ff2020","opacity":1},
  "encoding":{"x":{"field":"c","type":"quantitative","axis":null},"y":{"field":"v","type":"quantitative","axis":null}}},
 {"data":{"name":"ptsE"},"transform":[{"filter":"datum.k === 'Al(O)₄'"}],"mark":{"type":"point","shape":"triangle-up","filled":true,"size":90,"color":"#2b7de9","opacity":1},
  "encoding":{"x":{"field":"c","type":"quantitative","axis":null},"y":{"field":"v","type":"quantitative","axis":null}}},
 {"data":{"values":[{"c":-1,"v":50},{"c":7,"v":50}]},
  "mark":{"type":"text","text":"//","fontSize":10,"fontWeight":"bold","color":"#000","align":"center","baseline":"middle"},
  "encoding":{"x":{"field":"c","type":"quantitative","axis":null},"y":{"field":"v","type":"quantitative","axis":null}}},
 {"data":{"values":[{}]},"mark":{"type":"text","text":"F:AlO","align":"right","baseline":"middle","fontSize":24,"fontWeight":"bold","color":"#000"},
  "encoding":{"x":{"datum":3.44,"type":"quantitative","axis":null},"y":{"datum":16.1,"type":"quantitative","axis":null}}},
 {"data":{"values":[{}]},"mark":{"type":"text","text":"X","align":"left","baseline":"middle","fontSize":15,"fontWeight":"bold","color":"#000","dx":0.5,"dy":8},
  "encoding":{"x":{"datum":3.44,"type":"quantitative","axis":null},"y":{"datum":16.1,"type":"quantitative","axis":null}}},
 {"data":{"values":[{}]},"mark":{"type":"text","text":"(at.%)","align":"left","baseline":"middle","fontSize":24,"fontWeight":"bold","color":"#000","dx":13},
  "encoding":{"x":{"datum":3.44,"type":"quantitative","axis":null},"y":{"datum":16.1,"type":"quantitative","axis":null}}}
]}
],
"resolve":{"scale":{"x":"independent","y":"independent","color":"independent","shape":"independent","strokeDash":"independent","stroke":"independent"},"axis":{"x":"independent","y":"independent"},"legend":{"color":"independent","shape":"independent","strokeDash":"independent","stroke":"independent"}}
}
